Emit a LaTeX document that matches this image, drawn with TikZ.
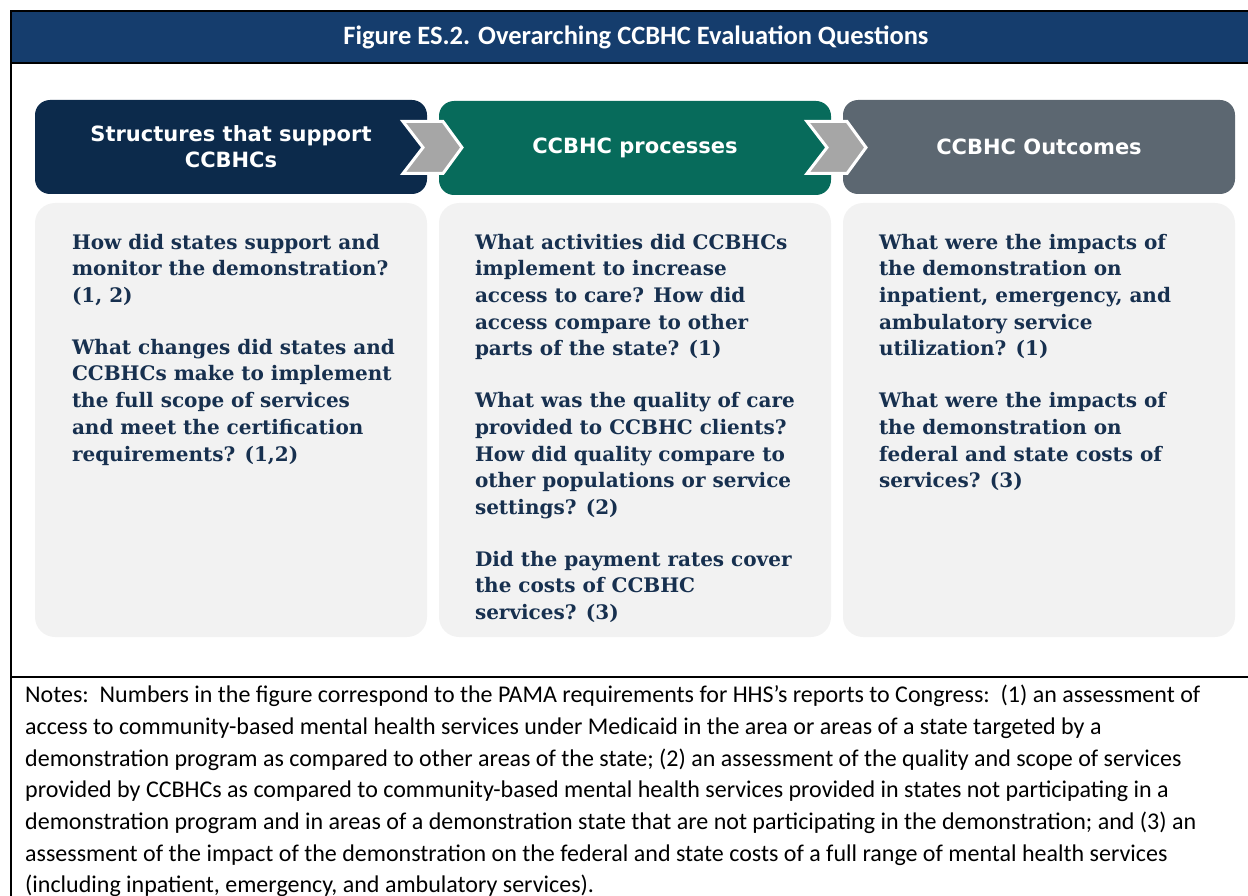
\documentclass[tikz,border=0pt]{standalone}
\usepackage{fontspec}
\setmainfont{Carlito}
\newfontfamily\headfont{DejaVu Sans}
\newfontfamily\quesfont{DejaVu Serif}
\usetikzlibrary{calc}

\definecolor{titleblue}{HTML}{153D6D}
\definecolor{navybox}{HTML}{0C2A4B}
\definecolor{tealbox}{HTML}{076B5B}
\definecolor{slatebox}{HTML}{5C6771}
\definecolor{panelgray}{HTML}{F2F2F2}
\definecolor{quesnavy}{HTML}{17304F}
\definecolor{chevgray}{HTML}{A6A6A6}

\tikzset{
  hdbox/.style={rounded corners=15pt, minimum width=392pt, minimum height=94pt,
    inner sep=0pt, text=white, align=center,
    font=\headfont\bfseries\fontsize{21}{26}\selectfont},
  panel/.style={fill=panelgray, rounded corners=20pt, minimum width=392pt,
    minimum height=434pt, inner sep=0pt},
  ques/.style={anchor=north west, inner sep=0pt, align=left, text=quesnavy,
    font=\quesfont\bfseries\fontsize{20}{26.7}\selectfont},
  chev/.style={fill=chevgray, draw=white, line width=3pt, line join=miter},
  frameline/.style={line width=2pt}
}

\begin{document}
\begin{tikzpicture}[x=1pt,y=-1pt]
\useasboundingbox (0,0) rectangle (1248,896);
\clip (0,0) rectangle (1248,896);

% title band
\fill[titleblue] (11,11) rectangle (1248,63);
\node[text=white, font=\bfseries\fontsize{26.5}{30}\selectfont] (title) at (636,37)
  {Figure ES.2. Overarching CCBHC Evaluation Questions};
\draw[frameline] (1248,11) -- (11,11) -- (11,896);
\draw[frameline] (11,63) -- (1248,63);
\draw[frameline] (11,677) -- (1248,677);

% header boxes
\node[hdbox, fill=navybox] (hdA) at (231,147) {Structures that support\\CCBHCs};
\node[hdbox, fill=tealbox] (hdB) at (635,148) {CCBHC processes};
\node[hdbox, fill=slatebox] (hdC) at (1039,147) {CCBHC Outcomes};

% chevrons between the boxes
\coordinate (gapA) at ($(hdA.east)!0.5!(hdB.west)$);
\coordinate (gapB) at ($(hdB.east)!0.5!(hdC.west)$);
\foreach \g in {gapA,gapB}{
  \begin{scope}[shift={(\g)}]
    \draw[chev] (-30,-26) -- (10,-26) -- (29,0) -- (10,26) -- (-30,26) -- (-10,0) -- cycle;
  \end{scope}
}

% panels
\node[panel] (pnA) at (231,420) {};
\node[panel] (pnB) at (635,420) {};
\node[panel] (pnC) at (1039,420) {};

\node[ques] (qA) at ($(pnA.north west)+(37,31)$)
  {How did states support and\\monitor the demonstration?\\(1, 2)\\[25pt]
   What changes did states and\\CCBHCs make to implement\\the full scope of services\\
   and meet the certification\\requirements? (1,2)};
\node[ques] (qB) at ($(pnB.north west)+(36,31)$)
  {What activities did CCBHCs\\implement to increase\\access to care? How did\\
   access compare to other\\parts of the state? (1)\\[25pt]
   What was the quality of care\\provided to CCBHC clients?\\How did quality compare to\\
   other populations or service\\settings? (2)\\[25pt]
   Did the payment rates cover\\the costs of CCBHC\\services? (3)};
\node[ques] (qC) at ($(pnC.north west)+(36,31)$)
  {What were the impacts of\\the demonstration on\\inpatient, emergency, and\\
   ambulatory service\\utilization? (1)\\[25pt]
   What were the impacts of\\the demonstration on\\federal and state costs of\\
   services? (3)};

% notes
\node[anchor=north west, inner sep=0pt, align=left,
  font=\fontsize{24}{31.7}\selectfont] (notes) at (25,685)
  {Notes:\ \ Numbers in the figure correspond to the PAMA requirements for HHS’s reports to Congress:\ \ (1) an assessment of\\
   access to community-based mental health services under Medicaid in the area or areas of a state targeted by a\\
   demonstration program as compared to other areas of the state; (2) an assessment of the quality and scope of services\\
   provided by CCBHCs as compared to community-based mental health services provided in states not participating in a\\
   demonstration program and in areas of a demonstration state that are not participating in the demonstration; and (3) an\\
   assessment of the impact of the demonstration on the federal and state costs of a full range of mental health services\\
   (including inpatient, emergency, and ambulatory services).};
\end{tikzpicture}
\end{document}
